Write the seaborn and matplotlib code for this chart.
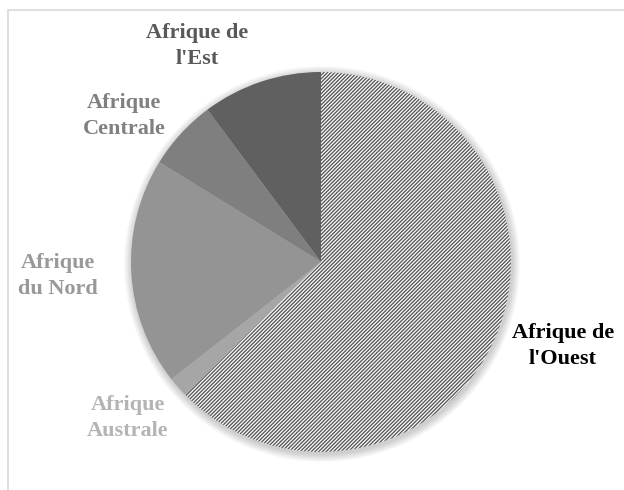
import matplotlib
matplotlib.use("Agg")
import matplotlib.pyplot as plt
from matplotlib.patches import Circle
from matplotlib.lines import Line2D
import seaborn as sns

# Regions and their share (clockwise from 12 o'clock)
regions = ["Afrique de\nl'Ouest", "Afrique\nAustrale", "Afrique\ndu Nord", "Afrique\nCentrale", "Afrique de\nl'Est"]
shares = [62.7, 1.75, 19.4, 6.0, 10.2]

# Slice colours and label colours
slice_colors = ["white", "#a6a6a6", "#949494", "#7f7f7f", "#606060"]
label_colors = ["#000000", "#b4b4b4", "#999999", "#808080", "#595959"]

# Label centres in pixel coordinates (x from left, y from top)
label_pos = [(563, 346), (128, 418), (58, 276), (124, 116), (197, 46)]

sns.set_theme(style="white")
plt.rcParams["font.family"] = ["Liberation Serif", "DejaVu Serif"]
plt.rcParams["hatch.linewidth"] = 1.0

W, H = 624, 490
fig = plt.figure(figsize=(W / 100, H / 100), dpi=100)
ax = fig.add_axes([0, 0, 1, 1])

cx, cy, r = 321, H - 262, 190

# soft shadow around the pie
for i in range(8, 0, -1):
    ax.add_patch(Circle((cx + 1, cy - 2), r + i, color="black", alpha=0.025, lw=0, zorder=0))

wedges, _ = ax.pie(shares, colors=slice_colors, startangle=90, counterclock=False,
                   center=(cx, cy), radius=r, frame=True,
                   wedgeprops=dict(linewidth=0))
ax.set_xlim(0, W)
ax.set_ylim(0, H)
ax.set_aspect("equal")
ax.axis("off")

# diagonal stripe fill for Afrique de l'Ouest
wedges[0].set_hatch("/////////")
wedges[0].set_edgecolor("#5a5a5a")
wedges[0].set_linewidth(0)

for name, col, (x, y) in zip(regions, label_colors, label_pos):
    ax.text(x, H - y, name, ha="center", va="center", fontsize=16,
            fontweight="bold", color=col, linespacing=1.45)

# light frame (left and top edges)
fig.add_artist(Line2D([7.5 / W, 7.5 / W], [0, 1 - 10.5 / H], color="#d9d9d9", lw=1.2))
fig.add_artist(Line2D([7.5 / W, 1], [1 - 10.5 / H, 1 - 10.5 / H], color="#d9d9d9", lw=1.2))

fig.savefig("out.png", dpi=100, facecolor="white")
